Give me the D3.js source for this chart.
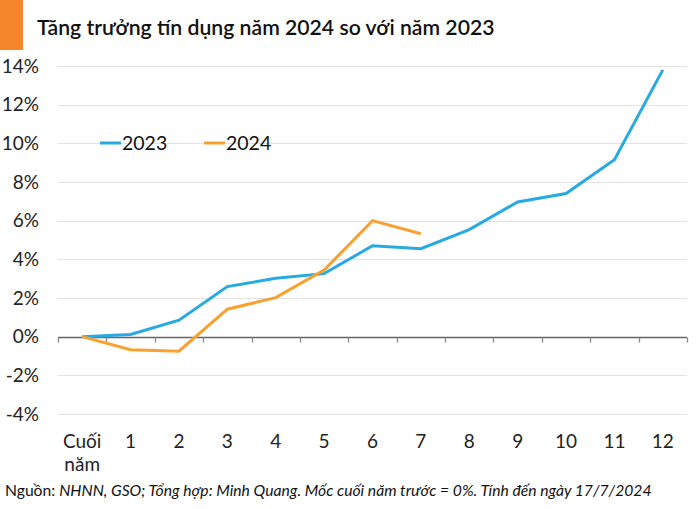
<!DOCTYPE html>
<html><head><meta charset="utf-8">
<script src="https://cdn.jsdelivr.net/npm/d3@7"></script>
<style>body{margin:0;background:#fff}svg{display:block;font-family:Lato,sans-serif}</style>
</head><body><svg id="c" width="700" height="509"></svg>
<script>
const categories = ["Cuối năm","1","2","3","4","5","6","7","8","9","10","11","12"];
const values2023 = [0,0.11,0.85,2.59,3.02,3.26,4.7,4.55,5.54,6.97,7.4,9.15,13.8];
const values2024 = [0,-0.68,-0.75,1.42,2.02,3.44,6.0,5.32];
const yTicks = [-4,-2,0,2,4,6,8,10,12,14];
const title = "Tăng trưởng tín dụng năm 2024 so với năm 2023";
const colors = {"2023":"#27a9e1","2024":"#f9a12f"};

const svg = d3.select("#c");
const L = 58, R = 687, T = 66, B = 414;
const x = d3.scaleBand().domain(categories).range([L,R]);
const y = d3.scaleLinear().domain([-4,14]).range([B,T]);

svg.append("rect").attr("x",0).attr("y",0).attr("width",23).attr("height",50).attr("fill","#f5862a");
svg.append("text").attr("x",37).attr("y",35).attr("font-size",21.2).attr("font-weight",600).attr("fill","#111").text(title);

// gridlines
svg.append("g").selectAll("line").data(yTicks.filter(d=>d!==0)).join("line")
  .attr("x1",L).attr("x2",R).attr("y1",d=>Math.round(y(d))+0.5).attr("y2",d=>Math.round(y(d))+0.5)
  .attr("stroke","#e2e2e2").attr("stroke-width",1.2);

// y labels
svg.append("g").selectAll("text").data(yTicks).join("text")
  .attr("x",39).attr("y",d=>y(d)).attr("dy","0.35em").attr("text-anchor","end")
  .attr("font-size",19).attr("fill","#222").text(d=>d+"%");

// zero axis with ticks
const ax = svg.append("g").attr("transform",`translate(0,${Math.round(y(0))+0.5})`);
ax.append("line").attr("x1",L).attr("x2",R).attr("stroke","#666").attr("stroke-width",1.3);
const bounds = categories.map(c=>x(c)).concat([R]);
ax.selectAll(".bt").data(bounds).join("line").attr("class","bt")
  .attr("x1",d=>Math.round(d)+0.5).attr("x2",d=>Math.round(d)+0.5).attr("y1",0).attr("y2",5)
  .attr("stroke","#888").attr("stroke-width",1.3);

// x labels
const xl = svg.append("g").selectAll("text").data(categories).join("text")
  .attr("x",d=>x(d)+x.bandwidth()/2).attr("y",448).attr("text-anchor","middle")
  .attr("font-size",19).attr("fill","#222");
xl.each(function(d){
  const parts = d.split(" ");
  const t = d3.select(this);
  parts.forEach((p,i)=>t.append("tspan").attr("x",x(d)+x.bandwidth()/2).attr("dy",i?23:0).text(p));
});

// lines
const line = d3.line().x((d,i)=>x(categories[i])+x.bandwidth()/2).y(d=>y(d));
svg.append("path").datum(values2023).attr("d",line).attr("fill","none")
  .attr("stroke",colors["2023"]).attr("stroke-width",3);
svg.append("path").datum(values2024).attr("d",line).attr("fill","none")
  .attr("stroke",colors["2024"]).attr("stroke-width",3);

// legend
[["2023",100],["2024",204]].forEach(([k,lx])=>{
  svg.append("line").attr("x1",lx).attr("x2",lx+21).attr("y1",143).attr("y2",143)
    .attr("stroke",colors[k]).attr("stroke-width",3);
  svg.append("text").attr("x",lx+22).attr("y",143).attr("dy","0.35em").attr("font-size",19.5).attr("fill","#111").text(k);
});

// footnote
const fn = svg.append("text").attr("x",5).attr("y",496).attr("font-size",15.7).attr("fill","#111");
fn.append("tspan").text("Nguồn: ");
fn.append("tspan").attr("font-style","italic").text("NHNN, GSO; Tổng hợp: Minh Quang. Mốc cuối năm trước = 0%. Tính đến ngày 17/7/2024");
</script></body></html>
